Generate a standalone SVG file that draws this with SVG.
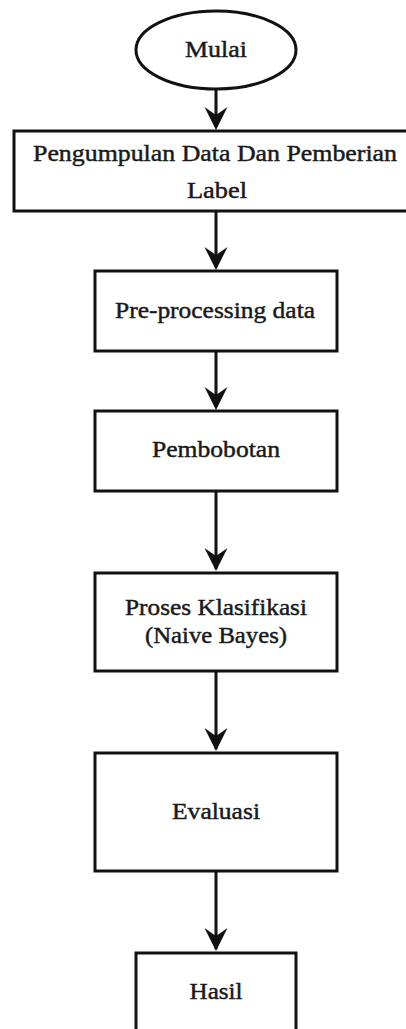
<svg xmlns="http://www.w3.org/2000/svg" width="406" height="1029" viewBox="0 0 406 1029">
<style>
.shape{fill:#fff;stroke:#111;stroke-width:3}
.lbl{font-family:"Liberation Serif","Times New Roman",serif;font-size:23px;fill:#1a1a1a;stroke:#1a1a1a;stroke-width:0.45px;text-anchor:middle}
.conn{stroke:#111;stroke-width:3;fill:none}
.head{fill:#111}
</style>
<rect width="406" height="1029" fill="#fff"/>
<g id="connectors">
<line class="conn" x1="216" y1="90" x2="216" y2="127"/>
<line class="conn" x1="216" y1="212" x2="216" y2="267"/>
<line class="conn" x1="216" y1="352" x2="216" y2="407"/>
<line class="conn" x1="216" y1="492" x2="216" y2="569"/>
<line class="conn" x1="216" y1="672" x2="216" y2="749"/>
<line class="conn" x1="216" y1="872" x2="216" y2="949"/>
<path class="head" d="M216 130 L204.5 107 L216 115 L227.5 107 Z"/>
<path class="head" d="M216 270 L204.5 247 L216 255 L227.5 247 Z"/>
<path class="head" d="M216 410 L204.5 387 L216 395 L227.5 387 Z"/>
<path class="head" d="M216 571 L204.5 548 L216 556 L227.5 548 Z"/>
<path class="head" d="M216 751 L204.5 728 L216 736 L227.5 728 Z"/>
<path class="head" d="M216 951 L204.5 928 L216 936 L227.5 928 Z"/>
</g>
<g id="mulai">
<ellipse class="shape" cx="216" cy="50" rx="80" ry="39"/>
<text class="lbl" x="216" y="57" textLength="62" lengthAdjust="spacingAndGlyphs">Mulai</text>
</g>
<g id="pengumpulan">
<rect class="shape" x="14" y="131" width="404" height="80"/>
<text class="lbl" x="215" y="161" textLength="364" lengthAdjust="spacingAndGlyphs">Pengumpulan Data Dan Pemberian</text>
<text class="lbl" x="217" y="198" textLength="60" lengthAdjust="spacingAndGlyphs">Label</text>
</g>
<g id="preprocessing">
<rect class="shape" x="95" y="271" width="242" height="80"/>
<text class="lbl" x="215" y="318" textLength="200" lengthAdjust="spacingAndGlyphs">Pre-processing data</text>
</g>
<g id="pembobotan">
<rect class="shape" x="95" y="411" width="242" height="80"/>
<text class="lbl" x="216" y="457" textLength="128" lengthAdjust="spacingAndGlyphs">Pembobotan</text>
</g>
<g id="klasifikasi">
<rect class="shape" x="95" y="573" width="242" height="98"/>
<text class="lbl" x="216" y="615" textLength="182" lengthAdjust="spacingAndGlyphs">Proses Klasifikasi</text>
<text class="lbl" x="216" y="643" textLength="142" lengthAdjust="spacingAndGlyphs">(Naive Bayes)</text>
</g>
<g id="evaluasi">
<rect class="shape" x="95" y="753" width="242" height="118"/>
<text class="lbl" x="216" y="819" textLength="88" lengthAdjust="spacingAndGlyphs">Evaluasi</text>
</g>
<g id="hasil">
<rect class="shape" x="136" y="953" width="160" height="110"/>
<text class="lbl" x="216" y="999" textLength="53" lengthAdjust="spacingAndGlyphs">Hasil</text>
</g>
</svg>
